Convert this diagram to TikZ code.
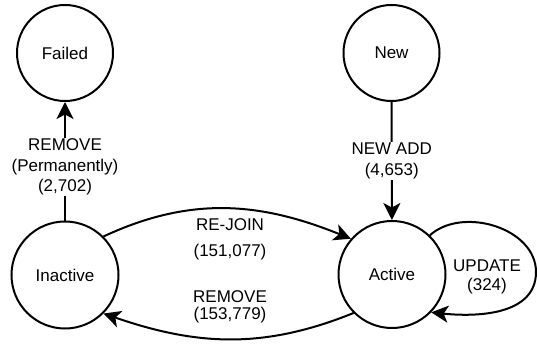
\documentclass[tikz,border=0pt]{standalone}
\usepackage{fontspec}
\setmainfont{Liberation Sans}
\usetikzlibrary{arrows.meta, positioning}
\tikzset{
    myarrow/.style={-{Stealth[length=17pt, width=17pt, inset=4.5pt]}},
    state/.style={draw, circle, line width=2pt, inner sep=0pt, align=center},
    lbl/.style={align=center, font=\fontsize{17}{20.5}\selectfont, inner sep=1pt}
}

\begin{document}
\begin{tikzpicture}[x=1pt, y=1pt, line width=2pt, font=\fontsize{17}{20.5}\selectfont]
    \useasboundingbox (0,0) rectangle (537,-347);
    \node (failed) [state, minimum size=96pt] at (65,-53) {Failed};
    \node (new) [state, minimum size=96pt] at (391.5,-53) {New};
    \node (inactive) [state, minimum size=107pt] at (65,-275) {Inactive};
    \node (active) [state, minimum size=107pt] at (392,-274.5) {Active};
    \coordinate (loopr) at (536,-272);
    \draw [myarrow] (inactive) -- node [lbl, fill=white, pos=0.45] {REMOVE\\(Permanently)\\(2,702)} (failed);
    \draw [myarrow] (new) -- node [lbl, fill=white] {NEW ADD\\(4,653)} (active);
    \draw [myarrow] (inactive.45) to [out=25, in=158] (active.139);
    \draw [myarrow] (active.225) to [out=202, in=-19] (inactive.-45);
    \draw [myarrow] (active.46) to [out=42, in=90] (loopr) to [out=-90, in=-6] (active.-44);
    \node (rejoin) [lbl] at (230,-239.5) {RE-JOIN\\[6pt](151,077)};
    \node (remove) [lbl] at (230,-306.5) {REMOVE\\[-3.5pt](153,779)};
    \node (update) [lbl] at (487,-276.5) {UPDATE\\[-1.5pt](324)};
\end{tikzpicture}
\end{document}
